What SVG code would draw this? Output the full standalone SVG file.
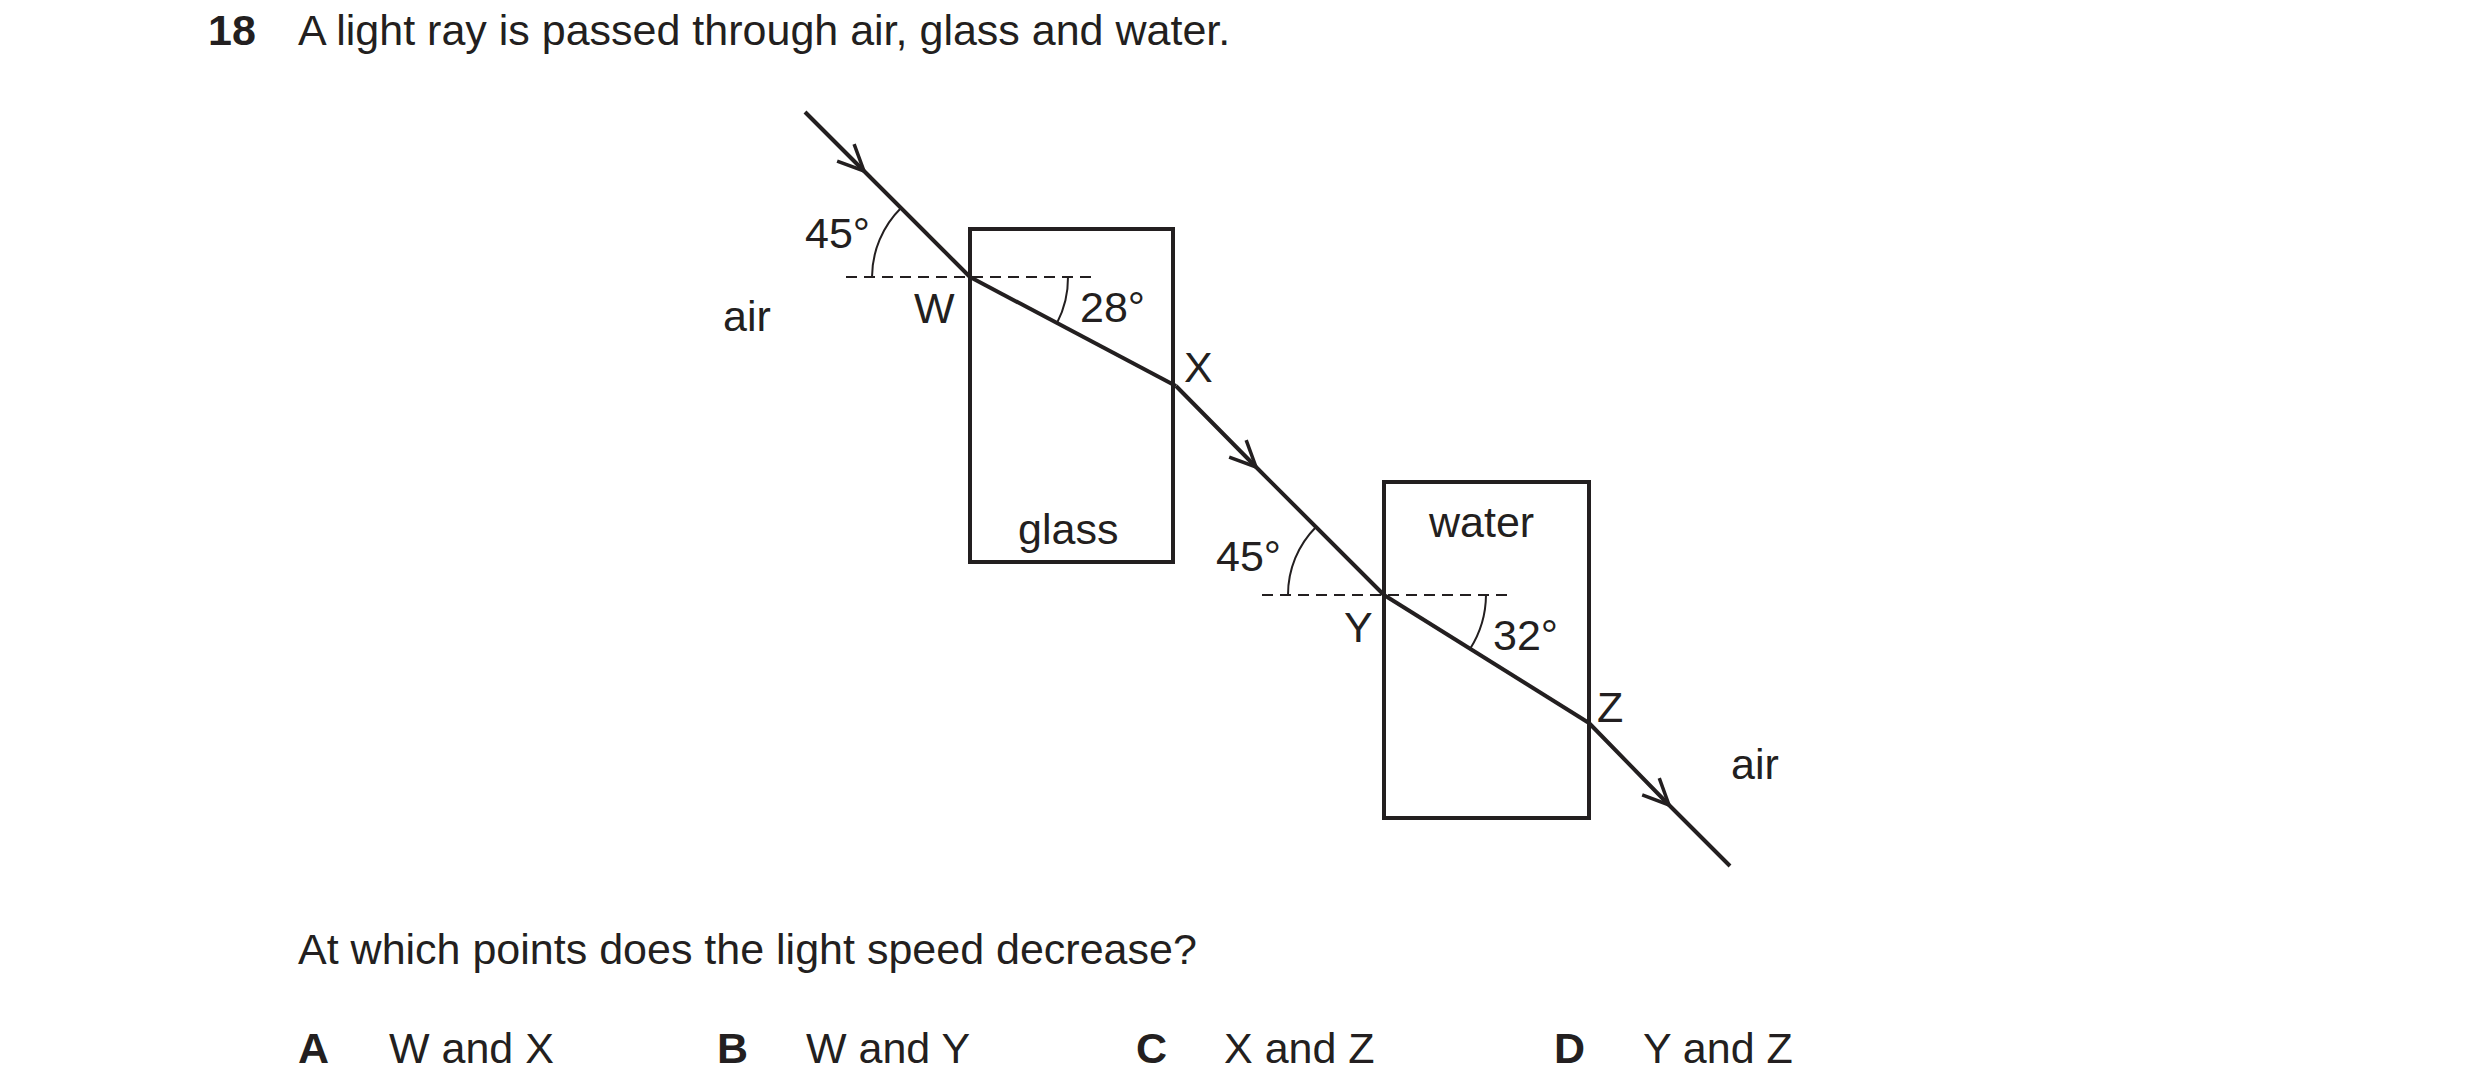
<svg xmlns="http://www.w3.org/2000/svg" width="2480" height="1092" viewBox="0 0 2480 1092">
<style>
text{font-family:"Liberation Sans",Arial,sans-serif;font-size:43px;fill:#231f20}
.b{font-weight:bold}
.box{fill:none;stroke:#231f20;stroke-width:4}
.ray{fill:none;stroke:#231f20;stroke-width:4;marker-mid:url(#chev)}
.dash{stroke:#231f20;stroke-width:2;stroke-dasharray:11 7}
.arc{fill:none;stroke:#231f20;stroke-width:2}
</style>
<defs>
<marker id="chev" markerUnits="userSpaceOnUse" markerWidth="40" markerHeight="40" viewBox="-30 -20 40 40" refX="0" refY="0" orient="auto">
<path d="M-26,-12 L0,0 L-26,12" fill="none" stroke="#231f20" stroke-width="3.5"/>
</marker>
</defs>
<rect width="2480" height="1092" fill="#fff"/>
<text x="208" y="45" class="b">18</text>
<text x="298" y="45">A light ray is passed through air, glass and water.</text>
<g id="glass"><rect class="box" x="970" y="229" width="203" height="333"/><text x="1018" y="544">glass</text></g>
<g id="water"><rect class="box" x="1384" y="482" width="205" height="336"/><text x="1429" y="537">water</text></g>
<g id="connectors">
<line class="dash" x1="846" y1="277" x2="1093" y2="277"/>
<line class="dash" x1="1262" y1="595" x2="1507" y2="595"/>
<polyline class="ray" points="805,112 864,171 970,277"/>
<line x1="970" y1="277" x2="1176" y2="386" stroke="#231f20" stroke-width="4"/>
<polyline class="ray" points="1176,386 1256,467 1384,595"/>
<line x1="1384" y1="595" x2="1589" y2="723" stroke="#231f20" stroke-width="4"/>
<polyline class="ray" points="1589,723 1669,805 1730,866"/>
<path class="arc" d="M872,277 A98,98 0 0 1 901,208"/>
<path class="arc" d="M1068,277 A98,98 0 0 1 1057,323"/>
<path class="arc" d="M1288,595 A96,96 0 0 1 1316,527"/>
<path class="arc" d="M1486,595 A102,102 0 0 1 1470,649"/>
</g>
<g id="labels">
<text x="805" y="248">45°</text>
<text x="914" y="323">W</text>
<text x="1080" y="322">28°</text>
<text x="1184" y="382">X</text>
<text x="723" y="331">air</text>
<text x="1216" y="571">45°</text>
<text x="1344" y="642">Y</text>
<text x="1493" y="650">32°</text>
<text x="1597" y="722">Z</text>
<text x="1731" y="779">air</text>
</g>
<text x="298" y="964">At which points does the light speed decrease?</text>
<text x="298" y="1063" class="b">A</text><text x="389" y="1063">W and X</text>
<text x="717" y="1063" class="b">B</text><text x="806" y="1063">W and Y</text>
<text x="1136" y="1063" class="b">C</text><text x="1224" y="1063">X and Z</text>
<text x="1554" y="1063" class="b">D</text><text x="1643" y="1063">Y and Z</text>
</svg>
